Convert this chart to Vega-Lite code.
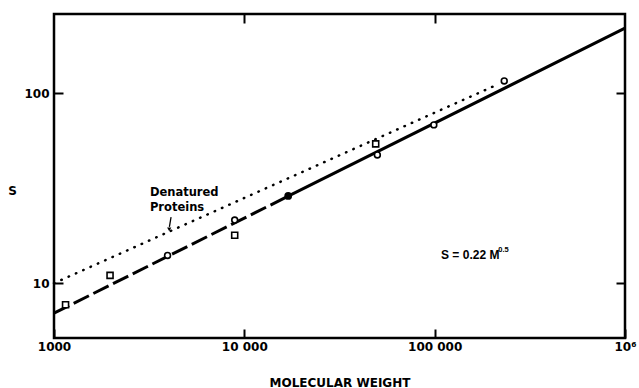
{
  "$schema": "https://vega.github.io/schema/vega-lite/v6.json",
  "width": 571,
  "height": 324,
  "autosize": {"type": "none"},
  "padding": {"left": 54, "top": 14, "right": 14, "bottom": 50},
  "background": "white",
  "config": {
    "view": {"stroke": "black", "strokeWidth": 2.5},
    "font": "DejaVu Sans",
    "axis": {
      "grid": false,
      "domain": false,
      "tickColor": "black",
      "tickWidth": 2,
      "tickSize": -9,
      "labelFont": "DejaVu Sans",
      "labelFontWeight": "bold",
      "labelColor": "black",
      "labelFontSize": 12,
      "labelOverlap": false,
      "labelFlush": false,
      "titleFont": "DejaVu Sans",
      "titleFontWeight": "bold",
      "titleColor": "black",
      "titleFontSize": 12
    }
  },
  "datasets": {
    "dotted": [{"M": 1000, "S": 10}, {"M": 218000, "S": 112}],
    "dashed": [{"M": 1000, "S": 6.96}, {"M": 17000, "S": 28.7}],
    "solid": [{"M": 17000, "S": 28.7}, {"M": 1000000, "S": 220}],
    "pts": [
      {"M": 1150, "S": 7.7, "kind": "square"},
      {"M": 1970, "S": 11.0, "kind": "square"},
      {"M": 3950, "S": 14.0, "kind": "circle"},
      {"M": 8900, "S": 17.9, "kind": "square"},
      {"M": 8900, "S": 21.5, "kind": "circle"},
      {"M": 17000, "S": 28.8, "kind": "filled"},
      {"M": 49000, "S": 54.1, "kind": "square"},
      {"M": 50000, "S": 47.3, "kind": "circle"},
      {"M": 99000, "S": 68.1, "kind": "circle"},
      {"M": 232000, "S": 116, "kind": "circle"}
    ],
    "labels": [
      {"M": 3190, "S": 29.9, "t": "Denatured"},
      {"M": 3190, "S": 24.9, "t": "Proteins"}
    ],
    "arrow": [{"M": 4120, "S": 22.3, "M2": 4040, "S2": 19.8}],
    "arrowhead": [{"M": 4030, "S": 19.2}],
    "eq": [{"M": 108000, "S": 14.1, "t": "S = 0.22 M"}],
    "eqsup": [{"M": 216000, "S": 15.0, "t": "0.5"}]
  },
  "layer": [
    {
      "data": {"name": "dotted"},
      "mark": {"type": "line", "color": "black", "strokeWidth": 2.5, "strokeDash": [0.5, 7.5], "strokeCap": "round"},
      "encoding": {
        "x": {
          "field": "M", "type": "quantitative",
          "scale": {"type": "log", "domain": [1000, 1000000], "nice": false},
          "axis": {
            "title": "MOLECULAR WEIGHT",
            "values": [1000, 10000, 100000, 1000000],
            "labelExpr": "datum.value == 1000 ? '1000' : datum.value == 10000 ? '10 000' : datum.value == 100000 ? '100 000' : '10⁶'",
            "labelPadding": 12,
            "titleY": 44,
            "titleBaseline": "middle"
          }
        },
        "y": {
          "field": "S", "type": "quantitative",
          "scale": {"type": "log", "domain": [5.15, 261], "nice": false},
          "axis": {
            "title": "S",
            "values": [10, 100],
            "format": "d",
            "labelPadding": 14,
            "titleAngle": 0,
            "titleX": -42,
            "titleY": 176,
            "titleAlign": "center",
            "titleBaseline": "middle"
          }
        }
      }
    },
    {
      "data": {"name": "dashed"},
      "mark": {"type": "line", "color": "black", "strokeWidth": 3, "strokeDash": [17, 5]},
      "encoding": {
        "x": {"field": "M", "type": "quantitative", "scale": {"type": "log", "domain": [1000, 1000000], "nice": false},
          "axis": {"orient": "top", "values": [10000, 100000], "labels": false, "title": null}},
        "y": {"field": "S", "type": "quantitative", "scale": {"type": "log", "domain": [5.15, 261], "nice": false},
          "axis": {"orient": "right", "values": [10, 100], "labels": false, "title": null}}
      }
    },
    {
      "data": {"name": "solid"},
      "mark": {"type": "line", "color": "black", "strokeWidth": 3},
      "encoding": {
        "x": {"field": "M", "type": "quantitative", "axis": null},
        "y": {"field": "S", "type": "quantitative", "axis": null}
      }
    },
    {
      "data": {"name": "pts"},
      "transform": [{"filter": "datum.kind == 'square'"}],
      "mark": {"type": "point", "shape": "square", "filled": true, "fill": "white", "stroke": "black", "strokeWidth": 1.6, "size": 36, "opacity": 1},
      "encoding": {
        "x": {"field": "M", "type": "quantitative", "axis": null},
        "y": {"field": "S", "type": "quantitative", "axis": null}
      }
    },
    {
      "data": {"name": "pts"},
      "transform": [{"filter": "datum.kind == 'circle'"}],
      "mark": {"type": "point", "shape": "circle", "filled": true, "fill": "white", "stroke": "black", "strokeWidth": 1.6, "size": 34, "opacity": 1},
      "encoding": {
        "x": {"field": "M", "type": "quantitative", "axis": null},
        "y": {"field": "S", "type": "quantitative", "axis": null}
      }
    },
    {
      "data": {"name": "pts"},
      "transform": [{"filter": "datum.kind == 'filled'"}],
      "mark": {"type": "point", "shape": "circle", "filled": true, "color": "black", "size": 60, "opacity": 1},
      "encoding": {
        "x": {"field": "M", "type": "quantitative", "axis": null},
        "y": {"field": "S", "type": "quantitative", "axis": null}
      }
    },
    {
      "data": {"name": "labels"},
      "mark": {"type": "text", "align": "left", "baseline": "middle", "fontSize": 11.5, "fontWeight": "bold", "font": "DejaVu Sans", "color": "black"},
      "encoding": {
        "x": {"field": "M", "type": "quantitative", "axis": null},
        "y": {"field": "S", "type": "quantitative", "axis": null},
        "text": {"field": "t"}
      }
    },
    {
      "data": {"name": "arrow"},
      "mark": {"type": "rule", "color": "black", "strokeWidth": 1.3},
      "encoding": {
        "x": {"field": "M", "type": "quantitative", "axis": null},
        "y": {"field": "S", "type": "quantitative", "axis": null},
        "x2": {"field": "M2"},
        "y2": {"field": "S2"}
      }
    },
    {
      "data": {"name": "arrowhead"},
      "mark": {"type": "point", "shape": "triangle-down", "filled": true, "color": "black", "size": 18, "opacity": 1},
      "encoding": {
        "x": {"field": "M", "type": "quantitative", "axis": null},
        "y": {"field": "S", "type": "quantitative", "axis": null}
      }
    },
    {
      "data": {"name": "eq"},
      "mark": {"type": "text", "align": "left", "baseline": "middle", "fontSize": 12, "fontWeight": "bold", "font": "Liberation Sans", "color": "black"},
      "encoding": {
        "x": {"field": "M", "type": "quantitative", "axis": null},
        "y": {"field": "S", "type": "quantitative", "axis": null},
        "text": {"field": "t"}
      }
    },
    {
      "data": {"name": "eqsup"},
      "mark": {"type": "text", "align": "left", "baseline": "middle", "fontSize": 7.5, "fontWeight": "bold", "font": "Liberation Sans", "color": "black"},
      "encoding": {
        "x": {"field": "M", "type": "quantitative", "axis": null},
        "y": {"field": "S", "type": "quantitative", "axis": null},
        "text": {"field": "t"}
      }
    }
  ],
  "resolve": {"axis": {"x": "independent", "y": "independent"}}
}
